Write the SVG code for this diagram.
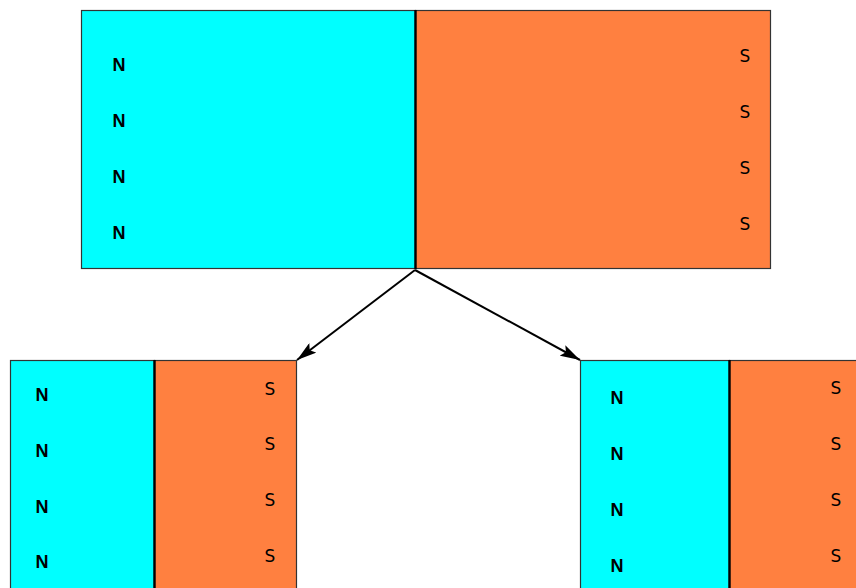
<svg xmlns="http://www.w3.org/2000/svg" width="856" height="588" viewBox="0 0 856 588">
<style>
.n{fill:#00FFFF;stroke:#333;stroke-width:1.2}
.s{fill:#FF8040;stroke:#333;stroke-width:1.2}
.d{stroke:#000;stroke-width:2.4}
.tn{font-family:"Liberation Sans",Arial,sans-serif;font-size:18px;font-weight:bold;fill:#000;text-anchor:middle}
.ts{font-family:"DejaVu Sans",sans-serif;font-size:17px;fill:#000;text-anchor:middle}
.c{stroke:#000;stroke-width:2;fill:none}
</style>
<defs>
<marker id="ah" viewBox="0 0 20 12" refX="20" refY="6" markerWidth="20" markerHeight="12" markerUnits="userSpaceOnUse" orient="auto">
<path d="M0,0 L20,6 L0,12 L4,6 Z" fill="#000"/>
</marker>
</defs>
<rect width="856" height="588" fill="#fff"/>
<g id="magnet-top">
<rect class="n" x="81.5" y="10.5" width="334" height="258"/>
<rect class="s" x="415.5" y="10.5" width="355" height="258"/>
<line class="d" x1="415.5" y1="10" x2="415.5" y2="269"/>
<text class="tn" x="119" y="71">N</text>
<text class="tn" x="119" y="127">N</text>
<text class="tn" x="119" y="183">N</text>
<text class="tn" x="119" y="239">N</text>
<text class="ts" x="745" y="62">S</text>
<text class="ts" x="745" y="118">S</text>
<text class="ts" x="745" y="174">S</text>
<text class="ts" x="745" y="230">S</text>
</g>
<g id="magnet-left">
<rect class="n" x="10.5" y="360.5" width="144" height="240"/>
<rect class="s" x="154.5" y="360.5" width="142" height="240"/>
<line class="d" x1="154.5" y1="360" x2="154.5" y2="588"/>
<text class="tn" x="42" y="401">N</text>
<text class="tn" x="42" y="457">N</text>
<text class="tn" x="42" y="513">N</text>
<text class="tn" x="42" y="568">N</text>
<text class="ts" x="270" y="395">S</text>
<text class="ts" x="270" y="450">S</text>
<text class="ts" x="270" y="506">S</text>
<text class="ts" x="270" y="562">S</text>
</g>
<g id="magnet-right">
<rect class="n" x="580.5" y="360.5" width="149" height="240"/>
<rect class="s" x="729.5" y="360.5" width="140" height="240"/>
<line class="d" x1="729.5" y1="360" x2="729.5" y2="588"/>
<text class="tn" x="617" y="404">N</text>
<text class="tn" x="617" y="460">N</text>
<text class="tn" x="617" y="516">N</text>
<text class="tn" x="617" y="572">N</text>
<text class="ts" x="836" y="394">S</text>
<text class="ts" x="836" y="450">S</text>
<text class="ts" x="836" y="506">S</text>
<text class="ts" x="836" y="562">S</text>
</g>
<g id="connectors">
<line class="c" x1="415" y1="270" x2="297" y2="360" marker-end="url(#ah)"/>
<line class="c" x1="415" y1="270" x2="580" y2="360" marker-end="url(#ah)"/>
</g>
</svg>
